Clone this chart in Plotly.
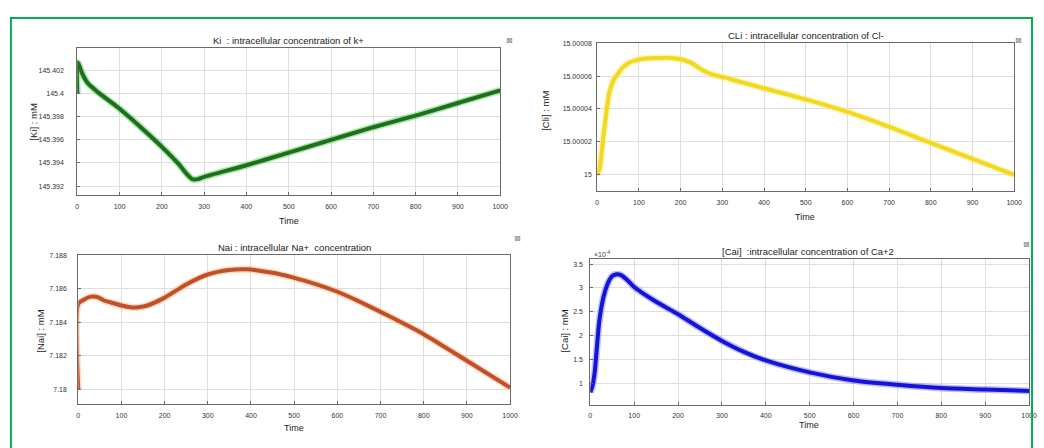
import plotly.graph_objects as go

W, H = 1044, 448

# ---------------- data ----------------
time_ticks = [0, 100, 200, 300, 400, 500, 600, 700, 800, 900, 1000]

k_t = [0, 0, 3, 10, 25, 50, 100, 150, 200, 240, 260, 272, 285, 300, 400, 500, 600, 700, 800, 900, 1000]
k_v = [145.4000, 145.4027, 145.4026, 145.4019, 145.4009, 145.4001, 145.3987, 145.3971,
       145.3954, 145.3939, 145.3930, 145.3926, 145.3926, 145.3928, 145.3938, 145.3949, 145.3960,
       145.3971, 145.3981, 145.3992, 145.4003]

cl_t = [0, 5, 10, 15, 20, 25, 30, 40, 50, 60, 75, 100, 125, 150, 175, 200, 225, 250, 275, 300,
        350, 400, 500, 600, 700, 800, 900, 1000]
cl_v = [15.0000000, 15.0000030, 15.0000120, 15.0000240, 15.0000340, 15.0000440, 15.0000510,
        15.0000580, 15.0000615, 15.0000650, 15.0000680, 15.0000700, 15.0000708, 15.0000710,
        15.0000710, 15.0000702, 15.0000680, 15.0000640, 15.0000610, 15.0000595, 15.0000560,
        15.0000526, 15.0000458, 15.0000382, 15.0000292, 15.0000194, 15.0000097, 15.0000000]

na_t = [0, 0, 10, 20, 30, 45, 60, 80, 100, 120, 140, 160, 200, 250, 300, 350, 390, 450,
        500, 550, 600, 650, 700, 750, 800, 900, 1000]
na_v = [7.1800, 7.1851, 7.1853, 7.18545, 7.18553, 7.1855, 7.1853, 7.18515, 7.1850, 7.1849,
        7.1849, 7.1850, 7.18547, 7.18626, 7.18685, 7.18712, 7.18716, 7.18695, 7.18665,
        7.18628, 7.18582, 7.18525, 7.18462, 7.18397, 7.18329, 7.1817, 7.1801]

ca_scale = 1e-4
ca_t = [0, 5, 10, 15, 20, 25, 30, 40, 50, 60, 70, 85, 100, 150, 200, 250, 300, 350, 400, 500,
        600, 700, 800, 900, 1000]
ca_v = [0.81, 0.95, 1.23, 1.75, 2.27, 2.58, 2.81, 3.10, 3.25, 3.29, 3.27, 3.16, 3.02, 2.71,
        2.45, 2.16, 1.89, 1.66, 1.48, 1.23, 1.06, 0.97, 0.90, 0.87, 0.84]

k_ticks = [145.392, 145.394, 145.396, 145.398, 145.400, 145.402]
k_ticktext = ["145.392", "145.394", "145.396", "145.398", "145.4", "145.402"]
cl_ticks = [15.0, 15.00002, 15.00004, 15.00006, 15.00008]
cl_ticktext = ["15", "15.00002", "15.00004", "15.00006", "15.00008"]
na_ticks = [7.180, 7.182, 7.184, 7.186, 7.188]
na_ticktext = ["7.18", "7.182", "7.184", "7.186", "7.188"]
ca_tick_units = [1, 1.5, 2, 2.5, 3, 3.5]
ca_ticktext = ["1", "1.5", "2", "2.5", "3", "3.5"]

titles = ["Ki  : intracellular concentration of k+",
          "CLi : intracellular concentration of Cl-",
          "Nai : intracellular Na+  concentration",
          "[Cai]  :intracellular concentration of Ca+2"]
ylabels = ["[Ki] : mM", "[Cli] : mM", "[Nai] : mM", "[Cai] : mM"]

# ---------------- layout helpers (pixel boxes) ----------------
boxes = [  # x0, x1, y0(top), y1(bottom)
    (76, 503, 44, 193),
    (601, 1022, 39.5, 189),
    (77, 513, 253.5, 404),
    (594, 1037, 257.5, 404.3),
]

def px(x):
    return x / W

def py(y):
    return 1 - y / H

fig = go.Figure()

series = [
    (k_t, k_v, "#1d6e1d", "rgba(60,200,60,0.45)"),
    (cl_t, cl_v, "#f2d81e", "rgba(250,235,120,0.5)"),
    (na_t, na_v, "#c0502a", "rgba(250,170,110,0.45)"),
    (ca_t, [v * ca_scale for v in ca_v], "#1414d8", "rgba(110,110,255,0.45)"),
]
smooth = [0.6, 1.0, 0.8, 0.7]

for i, (t, v, col, glow) in enumerate(series):
    ax = "" if i == 0 else str(i + 1)
    fig.add_trace(go.Scatter(x=t, y=v, mode="lines", xaxis="x" + ax, yaxis="y" + ax,
                             line=dict(color=glow, width=7, shape="spline", smoothing=smooth[i]),
                             hoverinfo="skip", showlegend=False))
    fig.add_trace(go.Scatter(x=t, y=v, mode="lines", xaxis="x" + ax, yaxis="y" + ax,
                             line=dict(color=col, width=4, shape="spline", smoothing=smooth[i]),
                             showlegend=False))

yranges = [[145.3912, 145.4040], [14.99999, 15.00008], [7.1791, 7.1880],
           [0.552 * ca_scale, 3.604 * ca_scale]]
yticks = [(k_ticks, k_ticktext), (cl_ticks, cl_ticktext), (na_ticks, na_ticktext),
          ([u * ca_scale for u in ca_tick_units], ca_ticktext)]
ystand = [11, 3, 9, 5]

tickfont = dict(family="Liberation Sans, Arial, sans-serif", size=7, color="#333333")
common = dict(showline=True, linecolor="#6a6a6a", linewidth=1, mirror=True,
              showgrid=True, gridcolor="#dedede", gridwidth=1, zeroline=False,
              ticks="inside", ticklen=3, tickcolor="#6a6a6a", tickfont=tickfont)

layout = dict(width=W, height=H, margin=dict(l=0, r=0, t=0, b=0),
              paper_bgcolor="white", plot_bgcolor="white", showlegend=False)

annotations = []
for i, (x0, x1, y0, y1) in enumerate(boxes):
    ax = "" if i == 0 else str(i + 1)
    layout["xaxis" + ax] = dict(domain=[px(x0), px(x1)], range=[0, 1000], tickvals=time_ticks,
                                anchor="y" + ax, ticklabelstandoff=4, **common)
    layout["yaxis" + ax] = dict(domain=[py(y1), py(y0)], range=yranges[i], tickvals=yticks[i][0],
                                ticktext=yticks[i][1], anchor="x" + ax,
                                ticklabelstandoff=ystand[i], **common)

title_font = dict(family="Liberation Sans, Arial, sans-serif", size=9.5, color="#222222")
lab_font = dict(family="Liberation Sans, Arial, sans-serif", size=9.5, color="#222222")
time_font = dict(family="Liberation Sans, Arial, sans-serif", size=9, color="#222222")
title_pos = [(289, 37), (812, 32), (295, 246), (814, 250)]
time_pos = [(290, 219), (811, 215), (295, 428), (815, 425)]
ylab_pos = [(32, 119), (548, 108), (38, 330), (567, 330)]
for i in range(4):
    annotations.append(dict(text=titles[i], x=px(title_pos[i][0]), y=py(title_pos[i][1]),
                            xref="paper", yref="paper", showarrow=False, font=title_font,
                            xanchor="center", yanchor="middle"))
    annotations.append(dict(text="Time", x=px(time_pos[i][0]), y=py(time_pos[i][1]),
                            xref="paper", yref="paper", showarrow=False, font=time_font,
                            xanchor="center", yanchor="middle"))
    annotations.append(dict(text=ylabels[i], x=px(ylab_pos[i][0]), y=py(ylab_pos[i][1]),
                            xref="paper", yref="paper", showarrow=False, font=lab_font,
                            textangle=-90, xanchor="center", yanchor="middle"))

annotations.append(dict(text="×10<sup>-4</sup>", x=px(596), y=py(252), xref="paper",
                        yref="paper", showarrow=False, xanchor="left", yanchor="middle",
                        font=dict(family="Liberation Sans, Arial, sans-serif", size=7,
                                  color="#444444")))

# small figure icons at top-right of each panel
for (ix, iy) in [(512, 30), (1032, 30), (520, 237), (1040, 243)]:
    annotations.append(dict(text="⊠", x=px(ix), y=py(iy), xref="paper", yref="paper",
                            showarrow=False,
                            font=dict(family="DejaVu Sans", size=8, color="#777777")))

layout["annotations"] = annotations
layout["shapes"] = [dict(type="rect", xref="paper", yref="paper", x0=px(9), x1=px(1040),
                         y0=py(452), y1=py(14), line=dict(color="#00b050", width=2))]

fig.update_layout(**layout)
fig.write_html("out.html")
